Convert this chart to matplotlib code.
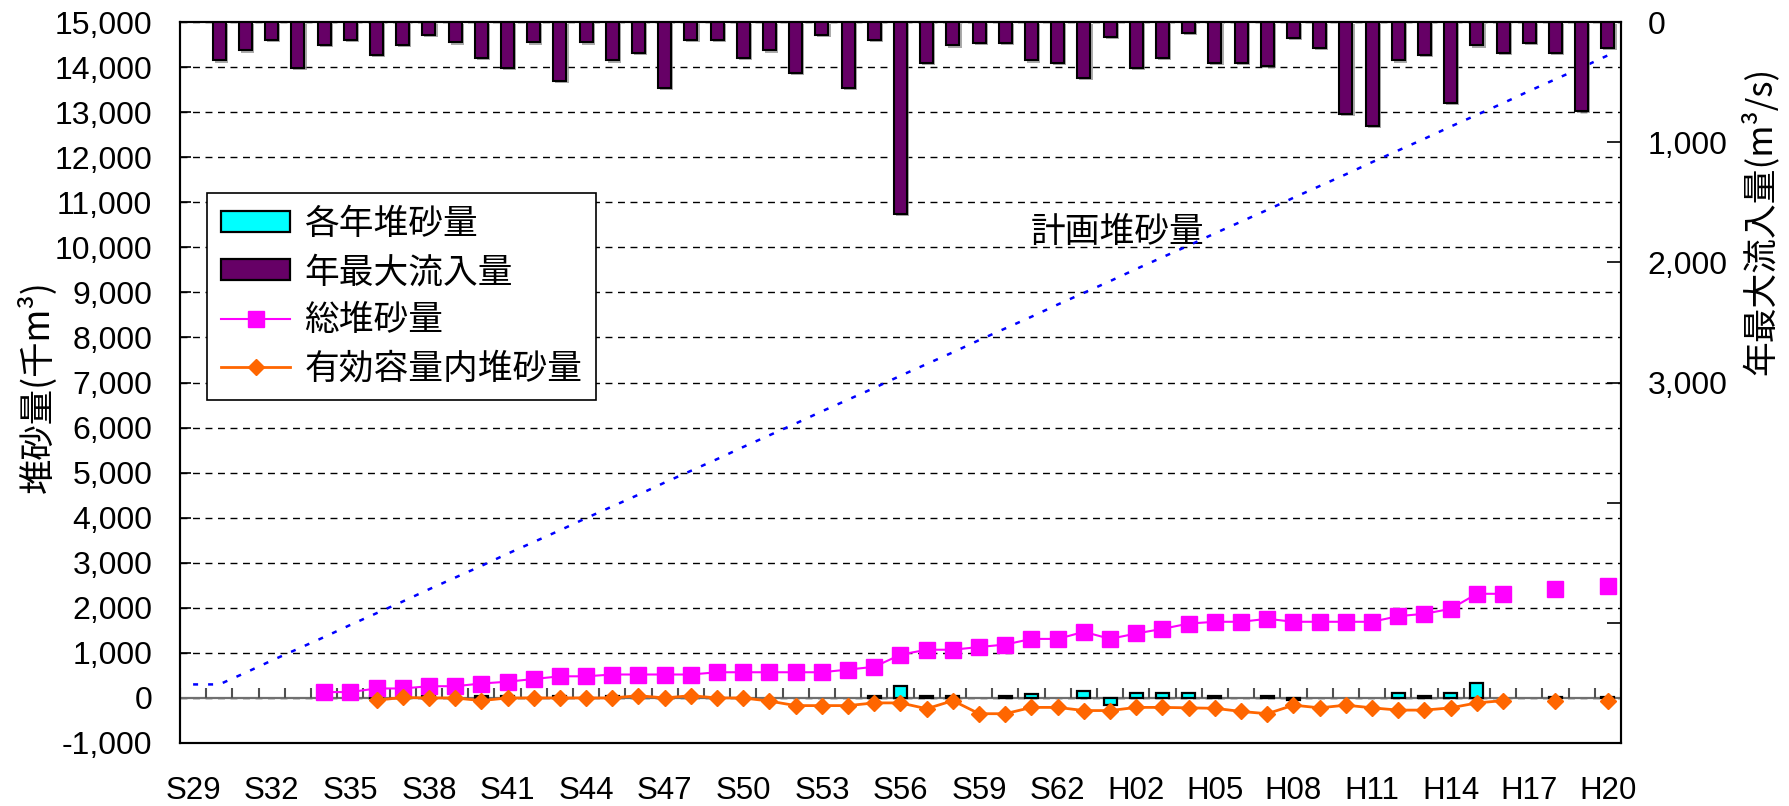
import matplotlib
matplotlib.use('Agg')
import matplotlib.pyplot as plt
import numpy as np
from matplotlib import patheffects as pe
from matplotlib.patches import Patch
from matplotlib.lines import Line2D
from matplotlib.ticker import FuncFormatter

JP = ['Noto Sans CJK JP', 'DejaVu Sans']
NUM = ['Liberation Sans', 'DejaVu Sans']
plt.rcParams['font.family'] = NUM

# ---------------- data ----------------
years = [f'S{y}' for y in range(29, 64)] + [f'H{y:02d}' for y in range(1, 21)]
nan = np.nan

# 各年堆砂量 (千m3)
annual = [nan, nan, nan, nan, nan, nan, nan, 40, nan, 40,
          nan, 40, 40, nan, 40, nan, 40, nan, nan, nan,
          nan, nan, nan, nan, nan, nan, 50, 270, 50, 40,
          nan, 50, 80, nan, 150, -150, 100, 100, 100, 50,
          nan, 50, -50, nan, nan, nan, 100, 50, 100, 330,
          nan, nan, 30, nan, 30]

# 年最大流入量 (m3/s)
inflow = [nan, 320, 237, 148, 382, 189, 148, 273, 189, 106,
          170, 298, 382, 170, 487, 170, 320, 256, 549, 148,
          148, 298, 237, 423, 106, 549, 148, 1597, 340, 195,
          173, 173, 320, 340, 465, 125, 382, 298, 89, 340,
          340, 362, 131, 214, 766, 863, 320, 273, 674, 195,
          256, 173, 256, 738, 214]

# 総堆砂量 (千m3)
total = [nan, nan, nan, nan, nan, 130, 130, 210, 210, 260,
         260, 320, 360, 420, 480, 480, 520, 520, 520, 520,
         570, 570, 570, 570, 570, 630, 690, 960, 1070, 1070,
         1130, 1185, 1310, 1310, 1467, 1311, 1430, 1533, 1650, 1690,
         1690, 1756, 1690, 1690, 1690, 1690, 1815, 1867, 1978, 2311,
         2311, nan, 2422, nan, 2481]

# 有効容量内堆砂量 (千m3)
effective = [nan, nan, nan, nan, nan, nan, nan, -50, 10, 0,
             0, -60, 0, 0, 0, 0, 0, 50, 0, 50,
             0, 0, -70, -170, -170, -170, -110, -110, -240, -60,
             -350, -350, -210, -210, -280, -280, -210, -210, -220, -230,
             -300, -350, -160, -220, -160, -220, -270, -270, -220, -110,
             -60, nan, -60, nan, -60]

# 計画堆砂量 (千m3)
plan = [300, 300, 560, 830, 1090, 1350, 1620, 1880, 2140, 2410,
        2670, 2930, 3200, 3460, 3720, 3990, 4250, 4510, 4780, 5040,
        5300, 5570, 5830, 6090, 6360, 6620, 6880, 7150, 7410, 7670,
        7940, 8200, 8460, 8730, 8990, 9250, 9520, 9780, 10040, 10310,
        10570, 10830, 11100, 11360, 11620, 11890, 12150, 12410, 12680, 12940,
        13200, 13470, 13730, 13990, 14260]

x = np.arange(len(years))

# ---------------- figure ----------------
W, H = 1789, 806
L, R, T, B = 180, 1621, 22, 743
fig = plt.figure(figsize=(W / 100, H / 100), dpi=100)
ax = fig.add_axes([L / W, 1 - B / H, (R - L) / W, (B - T) / H])
ax2 = ax.twinx()

ax.set_xlim(-0.5, len(years) - 0.5)
ax.set_ylim(-1000, 15000)
ax2.set_ylim(6000, 0)

ax.set_yticks(np.arange(-1000, 15001, 1000))
ax.yaxis.set_major_formatter(FuncFormatter(lambda v, p: f'{int(v):,}'))
ax.set_axisbelow(True)
ax.yaxis.grid(True, linestyle=(0, (5, 4)), color='black', lw=1.0)

# zero line with category tick marks
ax.axhline(0, color='#707070', lw=1.6, zorder=2)
ax.vlines(np.arange(-0.5, len(years), 1), 0, 220, color='#505050', lw=1.5, zorder=2)

# annual sedimentation bars
ax.bar(x, annual, width=0.5, color='#00FFFF', edgecolor='black', lw=1.6, zorder=3)

# plan line
ax.plot(x, plan, color='#0000FF', lw=1.8, ls=(0, (2, 4)), zorder=4)
ax.text(35.3, 10330, '計画堆砂量', fontsize=25, family=JP, ha='center', va='center')

# total / effective
ax.plot(x, total, color='#FF00FF', lw=1.5, marker='s', ms=11, mec='#FF00FF', zorder=5)
ax.plot(x, effective, color='#FF6600', lw=2.0, marker='D', ms=8.5, mec='#FF6600', zorder=6)

# inflow bars on right axis
ax2.bar(x, inflow, width=0.5, color='#660066', edgecolor='black', lw=1.5,
        path_effects=[pe.SimplePatchShadow(offset=(1.5, -1.5), shadow_rgbFace='#888888', alpha=0.7),
                      pe.Normal()])

# ticks
ax.set_xticks(x[::3])
ax.set_xticklabels(years[::3])
ax.tick_params(axis='x', length=0, pad=24, labelsize=22.5)
ax.tick_params(axis='y', direction='in', length=8, width=1.2, pad=20, labelsize=23)

ax2.set_yticks(np.arange(0, 6000, 1000))
ax2.set_yticklabels(['0', '1,000', '2,000', '3,000', '', ''])
ax2.tick_params(axis='y', direction='in', length=10, width=1.2, pad=19, labelsize=23)

for a in (ax, ax2):
    for s in a.spines.values():
        s.set_color('black')
        s.set_linewidth(1.5)

# axis titles
fig.text(37 / W, 1 - 387 / H, '堆砂量(千m³)', rotation=90, fontsize=25.5, family=JP,
         ha='center', va='center')
fig.text(1760 / W, 1 - 221 / H, '年最大流入量(m³/s)', rotation=90, fontsize=25, family=JP,
         ha='center', va='center')

# legend
handles = [Patch(facecolor='#00FFFF', edgecolor='black', lw=1.6),
           Patch(facecolor='#660066', edgecolor='black', lw=1.6),
           Line2D([], [], color='#FF00FF', marker='s', ms=11, lw=1.5),
           Line2D([], [], color='#FF6600', marker='D', ms=8.5, lw=2.0)]
labels = ['各年堆砂量', '年最大流入量', '総堆砂量', '有効容量内堆砂量']
leg = ax2.legend(handles, labels, loc='upper left',
                 bbox_to_anchor=((207 - L) / (R - L), (B - 193) / (B - T)),
                 borderaxespad=0, prop={'family': JP, 'size': 25},
                 frameon=True, fancybox=False, edgecolor='black', framealpha=1,
                 handlelength=2.0, handleheight=0.55, handletextpad=0.4,
                 labelspacing=0.38, borderpad=0.4)
leg.get_frame().set_linewidth(1.2)

fig.savefig('out.png', dpi=100)
